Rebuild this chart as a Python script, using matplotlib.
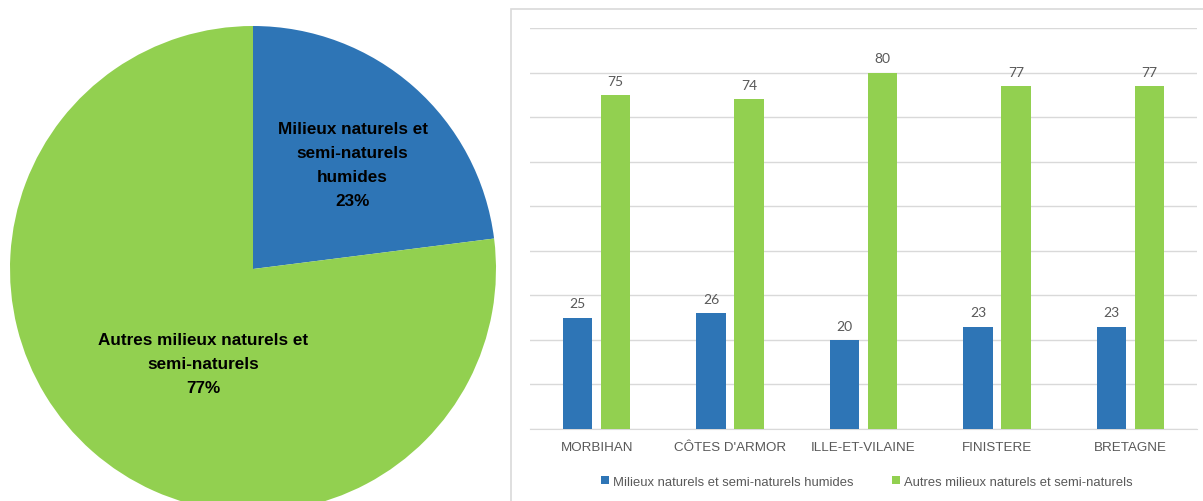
import numpy as np
import matplotlib.pyplot as plt
from matplotlib.patches import Rectangle

# pie: share of natural / semi-natural areas
pie_labels = ['Milieux naturels et\nsemi-naturels\nhumides', 'Autres milieux naturels et\nsemi-naturels']
pie_values = [23, 77]

# bars by departement
regions = ['MORBIHAN', "CÔTES D'ARMOR", 'ILLE-ET-VILAINE', 'FINISTERE', 'BRETAGNE']
humides = [25, 26, 20, 23, 23]
autres = [75, 74, 80, 77, 77]
series_names = ['Milieux naturels et semi-naturels humides',
                'Autres milieux naturels et semi-naturels']

BLUE = '#2E75B6'
GREEN = '#92D050'
GREY = '#595959'
GRID = '#D9D9D9'
sans = ['Liberation Sans', 'DejaVu Sans']

W, H = 1203, 502
fig = plt.figure(figsize=(W / 100, H / 100), dpi=100)

# --- pie ---
cx, cy, r = 253, 270, 243
ax1 = fig.add_axes([(cx - r) / W, (H - cy - r) / H, 2 * r / W, 2 * r / H])
ax1.pie(pie_values, colors=[BLUE, GREEN], startangle=90, counterclock=False,
        radius=1, wedgeprops=dict(linewidth=0))
ax1.set_xlim(-1, 1)
ax1.set_ylim(-1, 1)
ax1.set_aspect('equal')
ax1.axis('off')
ax1.text(0.41, 0.43, f'{pie_labels[0]}\n{pie_values[0]}%', ha='center', va='center',
         multialignment='center', fontsize=12.3, fontweight='bold', family=sans,
         linespacing=1.75)
ax1.text(-0.205, -0.39, f'{pie_labels[1]}\n{pie_values[1]}%', ha='center', va='center',
         multialignment='center', fontsize=12.3, fontweight='bold', family=sans,
         linespacing=1.75)

# --- chart frame ---
fig.patches.append(Rectangle((511 / W, -0.05), 0.6, (H - 10) / H + 0.05,
                             transform=fig.transFigure, fill=False,
                             edgecolor=GRID, linewidth=1.2))

# --- bars ---
ax2 = fig.add_axes([530 / W, (H - 430) / H, 667 / W, 401 / H])
x = np.arange(len(regions))
w = 0.22
off = 0.142
b1 = ax2.bar(x - off, humides, w, color=BLUE, label=series_names[0], zorder=3)
b2 = ax2.bar(x + off, autres, w, color=GREEN, label=series_names[1], zorder=3)
for bars in (b1, b2):
    ax2.bar_label(bars, padding=6, color=GREY, fontsize=10, family=['Lato', 'DejaVu Sans'])

ax2.set_xlim(-0.5, len(regions) - 0.5)
ax2.set_ylim(0, 90)
ax2.set_yticks(np.arange(0, 91, 10))
ax2.yaxis.grid(True, color=GRID, linewidth=1)
ax2.set_axisbelow(True)
ax2.tick_params(axis='y', left=False, labelleft=False)
ax2.tick_params(axis='x', length=0, pad=9)
ax2.set_xticks(x)
ax2.set_xticklabels(regions, color=GREY, fontsize=9.6, family=sans)
for s in ['top', 'right', 'left']:
    ax2.spines[s].set_visible(False)
ax2.spines['bottom'].set_color(GRID)

ax2.legend(loc='center', bbox_to_anchor=(0.505, -0.132), ncol=2, frameon=False,
           handlelength=0.6, handleheight=0.6, handletextpad=0.3, columnspacing=3,
           prop={'family': sans, 'size': 9.4}, labelcolor=GREY)

fig.savefig('out.png', dpi=100)
